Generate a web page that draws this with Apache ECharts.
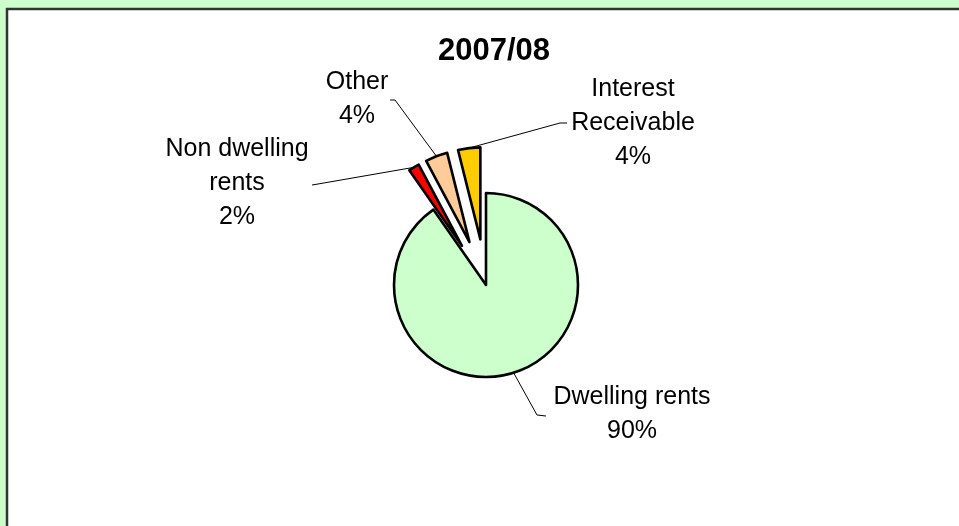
<!DOCTYPE html>
<html>
<head>
<meta charset="utf-8">
<script src="https://cdn.jsdelivr.net/npm/echarts@6/dist/echarts.min.js"></script>
<style>
html,body{margin:0;padding:0;background:#ccffcc;}
#chart{width:959px;height:526px;}
</style>
</head>
<body>
<div id="chart"></div>
<script>
// Data
const categories = ['Dwelling rents', 'Non dwelling rents', 'Other', 'Interest Receivable'];
const labelNames = ['Dwelling rents', 'Non dwelling\nrents', 'Other', 'Interest\nReceivable'];
const values = [90.3, 1.9, 3.9, 3.9];
const colors = ['#ccffcc', '#ff0000', '#ffcc99', '#ffcc00'];
const exploded = [false, true, true, true];
const titleText = '2007/08';

const FONT = 'Liberation Sans, Arial, sans-serif';
const CENTER = [486, 285];
const R = 92;
const OFFSET = 46;

// label anchor positions (centre of text block) and leader-line bends
const labelPos = [
  {x: 632, y: 414, line: [[537, 415], [546, 416]]},
  {x: 237, y: 183, line: [[318, 184], [312, 185]]},
  {x: 357, y: 99,  line: [[395, 100], [390, 100]]},
  {x: 633, y: 123, line: [[560, 123], [567, 123]]}
];

function layoutFn(params) {
  const p = labelPos[params.dataIndex];
  const pts = params.labelLinePoints;
  const start = pts && pts.length ? pts[0] : p.line[0];
  return {
    x: p.x, y: p.y, align: 'center', verticalAlign: 'middle',
    labelLinePoints: [start, p.line[0], p.line[1]]
  };
}

const labelStyle = {
  color: '#000', fontFamily: FONT, fontSize: 25, lineHeight: 34, align: 'center',
  formatter: function (p) { return labelNames[p.dataIndex] + '\n' + Math.round(p.percent) + '%'; }
};

const chart = echarts.init(document.getElementById('chart'), null, {renderer: 'canvas'});
chart.setOption({
  animation: false,
  backgroundColor: '#ccffcc',
  title: {
    text: titleText, left: 433, top: 31,
    textStyle: {fontFamily: FONT, fontSize: 31, fontWeight: 'bold', color: '#000'}
  },
  graphic: [{
    type: 'rect', z: -10, silent: true,
    shape: {x: 7, y: 9, width: 1000, height: 600},
    style: {fill: '#ffffff', stroke: '#333333', lineWidth: 2.5}
  }],
  series: [
    {
      type: 'pie', center: CENTER, radius: R, startAngle: 90, clockwise: true,
      selectedMode: 'multiple', selectedOffset: OFFSET, avoidLabelOverlap: false,
      silent: true,
      itemStyle: {borderColor: '#000', borderWidth: 2.6},
      label: Object.assign({show: true, position: 'outside'}, labelStyle),
      labelLine: {show: true, length: 10, length2: 10, smooth: false, lineStyle: {color: '#000', width: 1}},
      labelLayout: layoutFn,
      data: categories.map((c, i) => ({
        name: c, value: values[i], selected: exploded[i],
        itemStyle: {color: colors[i]},
        label: {show: !exploded[i]}, labelLine: {show: !exploded[i]}
      }))
    },
    {
      type: 'pie', center: CENTER, radius: R + OFFSET, startAngle: 90, clockwise: true,
      avoidLabelOverlap: false, silent: true, z: 3,
      itemStyle: {color: 'rgba(0,0,0,0)', borderWidth: 0},
      label: Object.assign({show: true, position: 'outside'}, labelStyle),
      labelLine: {show: true, length: 10, length2: 10, smooth: false, lineStyle: {color: '#000', width: 1}},
      labelLayout: layoutFn,
      data: categories.map((c, i) => ({
        name: c, value: values[i],
        label: {show: exploded[i]}, labelLine: {show: exploded[i]}
      }))
    }
  ]
});
</script>
</body>
</html>
